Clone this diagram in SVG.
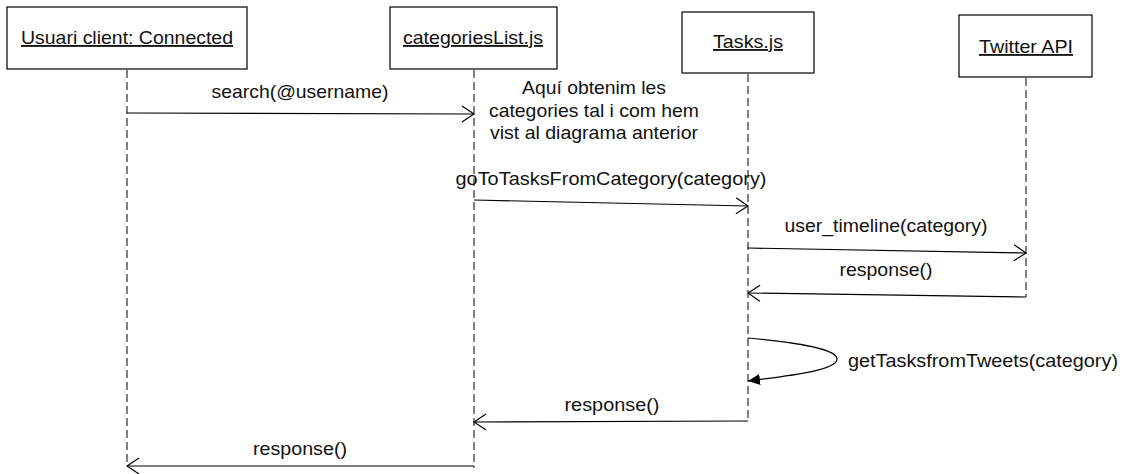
<svg xmlns="http://www.w3.org/2000/svg" width="1127" height="474" viewBox="0 0 1127 474">
<style>
text{font-family:"Liberation Sans",Arial,sans-serif;font-size:18.5px;fill:#111;text-anchor:middle}
.u{text-decoration:underline}
.box{fill:#fff;stroke:#000;stroke-width:1.2}
.life{stroke:#555;stroke-width:1.5;stroke-dasharray:8 4;fill:none}
.msg{stroke:#000;stroke-width:1.2;fill:none}
</style>
<defs>
<marker id="open" markerUnits="userSpaceOnUse" viewBox="0 0 14 18" markerWidth="14" markerHeight="18" refX="13" refY="9" orient="auto">
<path d="M1,1 L13,9 L1,17" fill="none" stroke="#000" stroke-width="1.2"/>
</marker>
<marker id="filled" markerUnits="userSpaceOnUse" viewBox="0 0 13 11" markerWidth="13" markerHeight="11" refX="12" refY="5.5" orient="auto">
<path d="M0,0 L12,5.5 L0,11 z" fill="#000"/>
</marker>
</defs>
<g id="node-usuari">
<rect class="box" x="7" y="7" width="240" height="62"/>
<text class="u" x="127" y="44" textLength="212" lengthAdjust="spacingAndGlyphs">Usuari client: Connected</text>
<line class="life" x1="127" y1="70" x2="127" y2="466"/>
</g>
<g id="node-categories">
<rect class="box" x="390" y="7" width="167" height="62"/>
<text class="u" x="473" y="44" textLength="140" lengthAdjust="spacingAndGlyphs">categoriesList.js</text>
<line class="life" x1="474" y1="70" x2="474" y2="468"/>
</g>
<g id="node-tasks">
<rect class="box" x="682" y="12" width="132" height="61"/>
<text class="u" x="748" y="48" textLength="70" lengthAdjust="spacingAndGlyphs">Tasks.js</text>
<line class="life" x1="748" y1="74" x2="748" y2="422"/>
</g>
<g id="node-twitter">
<rect class="box" x="959" y="15" width="133" height="62"/>
<text class="u" x="1026" y="53" textLength="94" lengthAdjust="spacingAndGlyphs">Twitter API</text>
<line class="life" x1="1026" y1="78" x2="1026" y2="297"/>
</g>
<g id="note">
<text x="594" y="94" textLength="144" lengthAdjust="spacingAndGlyphs">Aquí obtenim les</text>
<text x="594" y="117" textLength="210" lengthAdjust="spacingAndGlyphs">categories tal i com hem</text>
<text x="594" y="139" textLength="208" lengthAdjust="spacingAndGlyphs">vist al diagrama anterior</text>
</g>
<g id="connectors">
<line class="msg" x1="127" y1="113" x2="474" y2="114" marker-end="url(#open)"/>
<text x="300" y="98" textLength="177" lengthAdjust="spacingAndGlyphs">search(@username)</text>
<line class="msg" x1="474" y1="200" x2="748" y2="206" marker-end="url(#open)"/>
<text x="611" y="185" textLength="311" lengthAdjust="spacingAndGlyphs">goToTasksFromCategory(category)</text>
<line class="msg" x1="748" y1="248" x2="1026" y2="253" marker-end="url(#open)"/>
<text x="886" y="232" textLength="203" lengthAdjust="spacingAndGlyphs">user_timeline(category)</text>
<line class="msg" x1="1026" y1="297" x2="748" y2="293" marker-end="url(#open)"/>
<text x="886" y="276" textLength="93" lengthAdjust="spacingAndGlyphs">response()</text>
<path class="msg" d="M748,338 C800,343 837,349 837,359 C837,370 795,375 748,381" marker-end="url(#filled)"/>
<text x="983" y="367" textLength="270" lengthAdjust="spacingAndGlyphs">getTasksfromTweets(category)</text>
<line class="msg" x1="748" y1="421" x2="474" y2="422" marker-end="url(#open)"/>
<text x="612" y="411" textLength="95" lengthAdjust="spacingAndGlyphs">response()</text>
<line class="msg" x1="474" y1="466" x2="127" y2="466" marker-end="url(#open)"/>
<text x="300" y="455" textLength="94" lengthAdjust="spacingAndGlyphs">response()</text>
</g>
</svg>
